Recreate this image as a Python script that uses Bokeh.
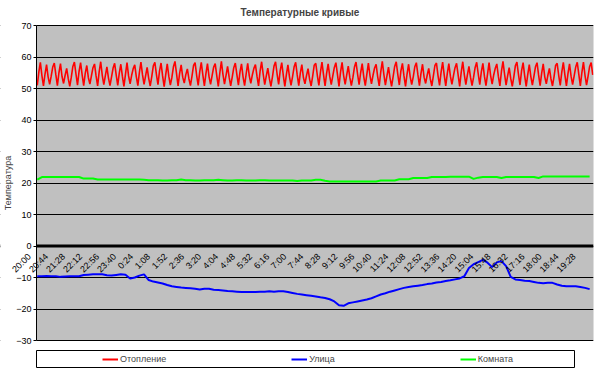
import math
from bokeh.plotting import figure
from bokeh.models import (Range1d, Span, Legend, LegendItem, SingleIntervalTicker,
                          FixedTicker, LinearAxis, BoxAnnotation)
from bokeh.embed import file_html
from bokeh.resources import INLINE

FONT = "Liberation Sans"

title_text = "Температурные кривые"
y_label = "Температура"
series_names = ["Отопление", "Улица", "Комната"]
series_colors = ["#FF0000", "#0000FF", "#00FF00"]
y_min, y_max = -30, 70

# category tick labels (every 11th sample, 4-minute samples)
time_labels = ["20:00", "20:44", "21:28", "22:12", "22:56", "23:40", "0:24", "1:08",
               "1:52", "2:36", "3:20", "4:04", "4:48", "5:32", "6:16", "7:00",
               "7:44", "8:28", "9:12", "9:56", "10:40", "11:24", "12:08", "12:52",
               "13:36", "14:20", "15:04", "15:48", "16:32", "17:16", "18:00", "18:44",
               "19:28"]
label_step = 11

# Отопление: every 4 minutes (360 samples)
heating = [
    51.0, 55.2, 58.3, 54.1, 50.8, 54.6, 57.6, 53.7, 51.3, 53.9, 56.8, 58.1, 54.4,
    50.9, 55.0, 57.9, 53.8, 51.6, 54.2, 56.4, 53.2, 50.7, 53.6, 57.0, 58.4, 54.6,
    51.1, 55.4, 58.2, 54.3, 50.9, 54.8, 57.3, 53.5, 51.4, 54.0, 56.6, 57.8, 54.0,
    50.8, 55.3, 58.5, 54.2, 51.2, 54.1, 56.9, 53.4, 50.9, 53.7, 56.5, 58.0, 54.3,
    51.0, 54.9, 57.7, 53.9, 50.7, 54.5, 58.2, 54.0, 51.5, 54.2, 56.3, 57.5, 53.8,
    50.9, 55.1, 58.4, 54.4, 51.3, 54.0, 56.7, 53.3, 50.8, 53.8, 57.2, 58.3, 54.5,
    51.2, 55.5, 58.1, 54.0, 50.6, 54.3, 57.8, 53.9, 51.1, 53.5, 56.9, 58.6, 54.7,
    50.8, 54.8, 57.5, 53.6, 51.7, 54.4, 56.2, 53.1, 50.9, 53.9, 57.3, 58.2, 54.2,
    51.0, 55.3, 58.3, 54.3, 50.8, 54.7, 57.9, 53.8, 51.3, 54.1, 56.8, 57.9, 54.1,
    50.7, 55.0, 58.6, 54.5, 51.4, 54.2, 57.0, 53.6, 50.8, 53.6, 56.6, 58.1, 54.4,
    51.1, 55.2, 57.8, 53.7, 50.9, 54.6, 58.0, 54.1, 51.6, 54.3, 56.4, 57.6, 53.9,
    50.8, 55.4, 58.5, 54.6, 51.2, 53.9, 56.5, 53.2, 50.7, 53.7, 57.1, 58.5, 54.6,
    51.3, 55.6, 58.2, 54.2, 50.7, 54.4, 57.5, 53.7, 51.0, 53.8, 56.9, 58.3, 54.3,
    50.9, 54.9, 57.6, 53.5, 51.5, 54.1, 56.3, 53.0, 50.8, 53.9, 57.4, 58.0, 54.2,
    51.0, 55.1, 58.4, 54.4, 50.8, 54.8, 57.8, 53.9, 51.2, 54.0, 56.7, 58.2, 54.5,
    50.7, 55.2, 58.3, 54.1, 51.3, 54.3, 57.1, 53.5, 50.9, 53.5, 56.8, 58.4, 54.6,
    51.2, 55.0, 57.9, 53.8, 50.9, 54.5, 58.1, 54.2, 51.5, 54.2, 56.5, 57.7, 53.8,
    50.8, 55.3, 58.6, 54.5, 51.1, 54.0, 56.8, 53.3, 50.7, 53.8, 57.0, 58.5, 54.5,
    51.1, 55.5, 58.0, 54.0, 50.7, 54.6, 57.7, 53.8, 51.2, 53.7, 56.9, 58.2, 54.4,
    50.9, 54.8, 57.7, 53.6, 51.6, 54.2, 56.4, 53.1, 50.8, 54.0, 57.3, 58.1, 54.1,
    51.0, 55.2, 58.4, 54.3, 50.8, 54.7, 57.9, 53.9, 51.3, 54.1, 56.6, 58.0, 54.3,
    50.7, 55.1, 58.5, 54.4, 51.2, 54.3, 57.0, 53.6, 50.9, 53.6, 56.7, 58.3, 54.6,
    51.2, 55.3, 58.0, 53.9, 50.9, 54.5, 58.2, 54.1, 51.4, 54.3, 56.4, 57.8, 53.9,
    50.8, 55.4, 58.6, 54.6, 51.1, 54.0, 56.6, 53.2, 50.7, 53.7, 57.2, 58.4, 54.5,
    51.1, 55.6, 58.2, 54.1, 50.7, 54.4, 57.6, 53.8, 51.1, 53.9, 56.9, 58.2, 54.3,
    50.9, 54.9, 57.8, 53.7, 51.5, 54.2, 56.4, 53.1, 50.8, 53.8, 57.3, 58.0, 54.2,
    51.0, 55.2, 58.3, 54.3, 50.8, 54.7, 57.8, 53.9, 51.2, 54.0, 56.8, 58.3, 54.5,
    50.8, 55.1, 58.4, 54.2, 51.1, 53.9, 57.0, 58.2, 54.3,
]

# Улица and Комната: every 12 minutes (every 3rd sample, 120 values)
outdoor = [
    -9.6, -9.6, -9.5, -9.6, -9.6, -9.8, -9.7, -9.6, -9.6, -9.6,
    -9.2, -9.1, -9.0, -9.0, -9.0, -9.3, -9.4, -9.2, -9.0, -9.1,
    -10.3, -10.0, -9.4, -9.0, -10.8, -11.3, -11.6, -11.9, -12.4, -12.8,
    -13.0, -13.2, -13.3, -13.4, -13.6, -13.8, -13.6, -13.6, -13.9, -14.0,
    -14.1, -14.3, -14.4, -14.5, -14.6, -14.6, -14.6, -14.6, -14.5, -14.5,
    -14.4, -14.5, -14.4, -14.4, -14.6, -14.9, -15.2, -15.4, -15.6, -15.8,
    -16.0, -16.3, -16.5, -16.9, -17.6, -18.8, -19.0, -18.2, -17.9, -17.6,
    -17.3, -17.0, -16.6, -16.0, -15.4, -15.0, -14.5, -14.1, -13.7, -13.3,
    -13.0, -12.8, -12.6, -12.4, -12.1, -11.9, -11.6, -11.4, -11.1, -10.9,
    -10.6, -10.3, -9.6, -7.0, -5.8, -5.1, -4.4, -5.3, -6.7, -5.2,
    -4.8, -6.4, -9.8, -10.6, -10.8, -11.0, -11.1, -11.4, -11.7, -11.8,
    -11.7, -11.7, -12.2, -12.6, -12.8, -12.8, -12.8, -13.0, -13.3, -13.7,
]
room = [
    21.1, 21.9, 21.9, 21.9, 21.9, 21.9, 21.9, 21.9, 21.9, 21.9,
    21.4, 21.4, 21.4, 21.1, 21.1, 21.1, 21.1, 21.1, 21.1, 21.1,
    21.1, 21.1, 21.1, 21.0, 20.9, 20.9, 20.9, 20.8, 20.8, 20.9,
    20.9, 21.1, 20.9, 20.9, 20.8, 20.8, 20.9, 20.9, 20.9, 21.0,
    20.9, 20.8, 20.8, 20.9, 20.9, 20.8, 20.8, 20.8, 20.9, 20.9,
    20.8, 20.8, 20.8, 20.8, 20.8, 20.8, 20.6, 20.8, 20.8, 20.8,
    21.0, 21.0, 20.7, 20.5, 20.5, 20.5, 20.5, 20.5, 20.5, 20.5,
    20.5, 20.5, 20.5, 20.5, 20.8, 20.8, 20.8, 20.8, 21.2, 21.2,
    21.2, 21.6, 21.6, 21.6, 21.6, 21.9, 21.9, 21.9, 21.9, 22.0,
    22.0, 22.0, 22.0, 22.0, 21.3, 21.7, 21.9, 21.9, 21.9, 21.9,
    21.6, 21.9, 21.9, 21.9, 21.9, 21.9, 21.9, 21.9, 21.6, 22.1,
    22.1, 22.1, 22.1, 22.1, 22.1, 22.1, 22.1, 22.1, 22.1, 22.1,
]
coarse_step = 3

n = len(heating)
x_fine = list(range(n))
x_coarse = [i * coarse_step for i in range(len(outdoor))]
x_labels = [i * label_step for i in range(len(time_labels))]
series_x = [x_fine, x_coarse, x_coarse]
series_y = [heating, outdoor, room]
series_w = [1.6, 2, 2]

# layout geometry (pixels): plot area 36..593 x 25..340 inside a frame that starts at x=0
area_left, area_right = 36, 593
pad_px = 5
px_per_cat = (area_right - area_left) / n
px_per_unit = 315 / (y_max - y_min)
x_start = -0.5 - area_left / px_per_cat
y_pad = pad_px / px_per_unit

p = figure(width=600, height=345, output_backend="svg", toolbar_location=None,
           x_range=Range1d(x_start, n - 0.5),
           y_range=Range1d(y_min - y_pad, y_max + y_pad),
           x_axis_location=None, y_axis_location=None,
           min_border_left=0, min_border_right=600 - area_right,
           min_border_top=25 - pad_px, min_border_bottom=0)
p.background_fill_color = "white"
p.border_fill_color = "white"
p.outline_line_color = None

p.title.text = title_text
p.title.align = "left"
p.title.offset = 240
p.title.text_font = FONT
p.title.text_font_size = "10px"
p.title.text_font_style = "bold"
p.title.standoff = 5

# grey plot area
p.add_layout(BoxAnnotation(left=-0.5, right=n - 0.5, bottom=y_min, top=y_max,
                           fill_color="#C0C0C0", fill_alpha=1.0,
                           line_color="#808080", line_width=1, level="image"))

p.ygrid.ticker = SingleIntervalTicker(interval=10)
p.ygrid.grid_line_color = "black"
p.ygrid.grid_line_width = 1
p.xgrid.visible = False

# category axis line at 0
p.add_layout(Span(location=0, dimension="width", line_color="black", line_width=3,
                  level="underlay"))
# white area left of the value axis
p.add_layout(BoxAnnotation(right=-0.5, fill_color="white", fill_alpha=1.0,
                           line_color=None, level="underlay"))

for xs, ys, col, w in zip(series_x, series_y, series_colors, series_w):
    p.line(xs, ys, line_color=col, line_width=w)

# value axis
yax = LinearAxis(fixed_location=-0.5, ticker=SingleIntervalTicker(interval=10),
                 bounds=(y_min, y_max))
yax.axis_label = y_label
yax.axis_label_text_font = FONT
yax.axis_label_text_font_size = "9px"
yax.axis_label_text_font_style = "normal"
yax.axis_label_standoff = 0
yax.major_label_text_font = FONT
yax.major_label_text_font_size = "9px"
yax.major_label_text_color = "black"
yax.major_label_standoff = 2
yax.major_tick_out = 3
yax.major_tick_in = 0
yax.minor_tick_out = 0
yax.minor_tick_in = 0
yax.axis_line_color = "black"
yax.major_tick_line_color = "black"
p.add_layout(yax, "left")

# category axis crossing at 0; its labels hang slightly left of each category
label_shift = 5
p.extra_x_ranges = {"cat": Range1d(x_start + label_shift, n - 0.5 + label_shift)}
xax = LinearAxis(x_range_name="cat", fixed_location=0,
                 ticker=FixedTicker(ticks=x_labels),
                 major_label_overrides={xv: t for xv, t in zip(x_labels, time_labels)})
xax.major_label_orientation = math.pi / 4
xax.major_label_text_font = FONT
xax.major_label_text_font_size = "9px"
xax.major_label_text_color = "black"
xax.major_label_standoff = 9
xax.axis_line_color = None
xax.major_tick_line_color = None
xax.minor_tick_line_color = None
xax.major_tick_out = 0
xax.major_tick_in = 0
p.add_layout(xax, "below")

# legend box as a separate small root below the chart
lg = figure(width=600, height=27, output_backend="svg", toolbar_location=None,
            x_range=Range1d(0, 1), y_range=Range1d(1000, 1001),
            x_axis_location=None, y_axis_location=None,
            min_border_left=36, min_border_right=26, min_border_top=5, min_border_bottom=5)
lg.grid.visible = False
lg.background_fill_color = "white"
lg.border_fill_color = "white"
lg.outline_line_color = "black"
lg.outline_line_width = 1
items = []
for name, col, xs, ys in zip(series_names, series_colors, series_x, series_y):
    r = lg.line(xs, ys, line_color=col, line_width=2)
    items.append(LegendItem(label=name, renderers=[r]))
legend = Legend(items=items, orientation="horizontal", location=(66, 3),
                spacing=125, glyph_width=16, glyph_height=10, label_height=10,
                label_standoff=2, padding=0, margin=0,
                label_text_font=FONT, label_text_font_size="9px",
                border_line_alpha=0, background_fill_alpha=0)
lg.add_layout(legend)

open("out.html", "w").write(file_html([p, lg], INLINE))
